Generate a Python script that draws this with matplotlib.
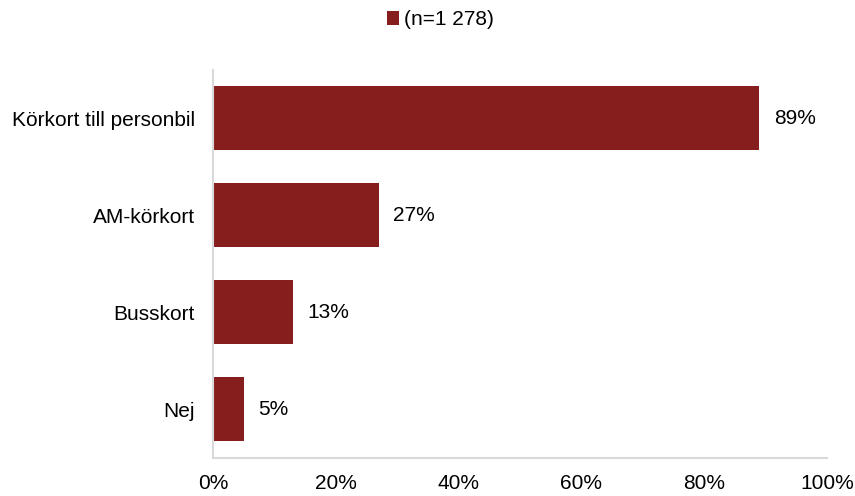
import numpy as np
import matplotlib.pyplot as plt
from matplotlib.ticker import FuncFormatter

categories = ["Körkort till personbil", "AM-körkort", "Busskort", "Nej"]
values = [89, 27, 13, 5]
series_name = "(n=1 278)"

plt.rcParams["font.family"] = ["Liberation Sans", "DejaVu Sans"]
plt.rcParams["font.size"] = 15

fig = plt.figure(figsize=(8.55, 4.96), dpi=100)
ax = fig.add_axes([0.249, 0.077, 0.718, 0.782])

y = np.arange(len(categories))
bars = ax.barh(y, values, height=0.66, color="#861E1E", label=series_name)
ax.set_ylim(len(categories) - 0.5, -0.5)
ax.set_yticks(y)
ax.set_yticklabels(categories, color="black")
ax.set_xlim(0, 100)
ax.set_xticks(np.arange(0, 101, 20))
ax.xaxis.set_major_formatter(FuncFormatter(lambda v, p: f"{v:.0f}%"))

for b, v in zip(bars, values):
    ax.text(b.get_width() + 2.4, b.get_y() + b.get_height() / 2, f"{v}%",
            va="center", ha="left")

ax.tick_params(axis="both", length=0)
ax.tick_params(axis="y", pad=13)
ax.tick_params(axis="x", pad=12)
for s in ["top", "right"]:
    ax.spines[s].set_visible(False)
for s in ["left", "bottom"]:
    ax.spines[s].set_color("#d9d9d9")
    ax.spines[s].set_linewidth(1.5)

fig.legend(handles=[bars], labels=[series_name], loc="center",
           bbox_to_anchor=(0.515, 0.96), frameon=False, handlelength=0.6,
           handleheight=0.6, handletextpad=0.25)

fig.savefig("out.png", dpi=100)
